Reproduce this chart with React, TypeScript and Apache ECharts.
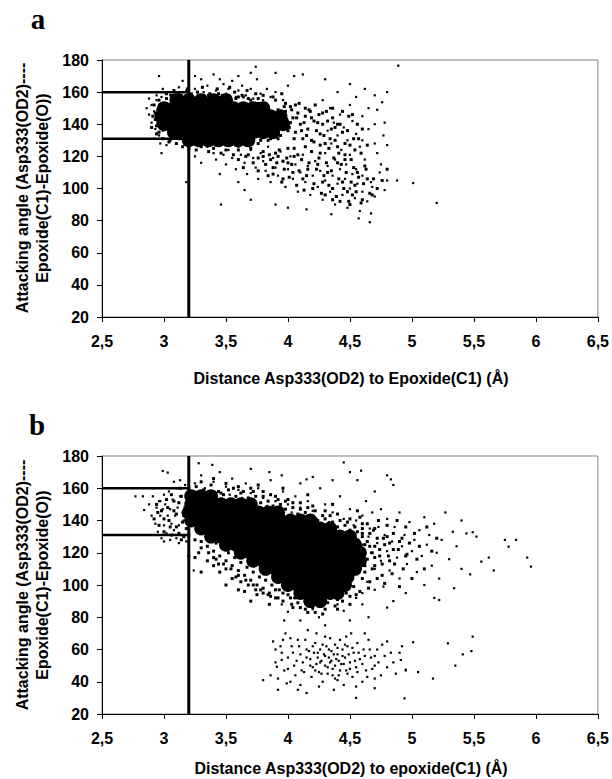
import React, { useEffect, useRef } from 'react';
import * as echarts from 'echarts';

// ---------- axis / reference values ----------
const xMin = 2.5;
const xMax = 6.5;
const xStep = 0.5;
const xTickLabels = ['2,5', '3', '3,5', '4', '4,5', '5', '5,5', '6', '6,5'];
const yMin = 20;
const yMax = 180;
const yStep = 20;
const refDistance = 3.2;
const refAngleHigh = 160;
const refAngleLow = 131;

const titleA = 'Distance Asp333(OD2) to Epoxide(C1) (Å)';
const titleB = 'Distance Asp333(OD2) to epoxide(C1) (Å)';
const yTitle1 = 'Attacking angle (Asp333(OD2)----';
const yTitle2 = 'Epoxide(C1)-Epoxide(O))';

// ---------- panel a ----------
// solid black centre of the cloud ([distance, angle])
const aCore: number[][] = [
  [3.1, 155], [3.2, 155], [3.3, 155], [3.4, 155], [3.5, 155],
  [3.0, 150], [3.08, 150], [3.16, 150], [3.24, 150], [3.32, 150], [3.4, 150], [3.48, 150], [3.56, 150], [3.64, 150], [3.72, 150], [3.8, 150],
  [2.98, 145], [3.06, 145], [3.14, 145], [3.22, 145], [3.3, 145], [3.38, 145], [3.46, 145], [3.54, 145], [3.62, 145], [3.7, 145], [3.78, 145], [3.86, 145], [3.94, 145],
  [3.0, 140], [3.08, 140], [3.16, 140], [3.24, 140], [3.32, 140], [3.4, 140], [3.48, 140], [3.56, 140], [3.64, 140], [3.72, 140], [3.8, 140], [3.88, 140], [3.96, 140],
  [3.08, 135], [3.16, 135], [3.24, 135], [3.32, 135], [3.4, 135], [3.48, 135], [3.56, 135], [3.64, 135], [3.72, 135], [3.8, 135], [3.88, 135],
  [3.2, 130], [3.28, 130], [3.36, 130], [3.44, 130], [3.52, 130], [3.6, 130], [3.68, 130],
];
const aDense: number[][] = [
  [3.02, 159], [3.08, 161], [3.14, 158], [3.19, 162], [3.27, 160], [3.31, 163], [3.37, 159], [3.43, 162], [3.47, 158],
  [3.53, 163], [3.57, 160], [3.63, 158], [3.67, 161], [3.74, 159], [3.8, 158], [3.88, 157], [3.95, 159],
  [3.58, 156], [3.64, 157], [3.7, 155], [3.76, 156], [3.82, 153], [3.9, 155], [3.98, 153], [4.06, 152], [4.14, 150],
  [3.98, 148], [4.02, 151], [4.04, 144], [4.06, 135], [4.08, 147], [4.1, 140], [4.12, 131], [4.14, 145], [4.16, 137],
  [4.18, 148], [4.19, 130], [4.21, 142], [4.23, 136], [4.25, 146], [4.26, 127], [4.28, 140], [4.29, 133], [4.31, 148],
  [4.33, 125], [4.35, 137], [4.36, 144], [4.38, 130], [4.4, 140], [4.41, 122], [4.44, 135], [4.46, 128], [4.49, 145],
  [4.51, 118], [4.53, 131], [4.56, 140], [4.59, 122],
  [3.05, 130], [3.1, 128], [3.15, 126], [3.2, 125], [3.26, 124], [3.3, 126], [3.36, 123], [3.4, 125], [3.46, 122],
  [3.5, 124], [3.56, 121], [3.6, 124], [3.66, 120], [3.7, 125], [3.76, 119], [3.8, 123], [3.86, 118], [3.9, 122],
  [3.96, 117], [4.0, 125], [4.05, 120], [3.78, 130], [3.86, 131], [3.94, 133], [4.0, 136], [4.02, 141],
  [2.9, 138], [2.91, 145], [2.92, 152], [2.94, 134], [2.95, 141], [2.95, 149], [2.96, 155], [2.93, 143],
  [3.82, 115], [3.85, 121], [3.88, 109], [3.91, 116], [3.93, 124], [3.95, 104], [3.97, 112], [3.99, 119], [4.01, 107],
  [4.03, 115], [4.05, 125], [4.07, 102], [4.09, 111], [4.11, 118], [4.13, 99], [4.15, 108], [4.17, 116], [4.19, 123],
  [4.21, 103], [4.23, 112], [4.25, 119], [4.27, 97], [4.29, 108], [4.31, 116], [4.33, 102], [4.35, 111], [4.37, 119],
  [4.39, 95], [4.41, 106], [4.43, 115], [4.45, 100], [4.47, 110], [4.49, 92], [4.51, 104], [4.53, 113], [4.55, 98],
  [4.57, 107], [4.59, 91], [4.61, 103], [4.63, 112], [4.66, 97], [4.69, 106], [4.72, 100], [4.76, 105], [4.8, 112],
  [3.97, 151], [3.99, 143], [4.01, 138], [4.03, 149], [4.05, 131], [4.07, 144], [4.09, 153], [4.11, 136], [4.13, 141],
  [4.15, 133], [4.17, 149], [4.19, 144], [4.21, 129], [4.22, 152], [4.24, 141], [4.26, 134], [4.28, 147], [4.3, 128],
  [4.32, 142], [4.34, 131], [4.36, 150], [4.38, 138], [4.4, 126], [4.42, 140], [4.44, 148], [4.46, 121], [4.48, 136],
  [4.5, 127], [4.52, 146], [4.54, 124], [4.57, 131], [4.6, 137], [4.62, 114], [4.64, 127],
  [2.93, 147], [2.94, 139], [2.96, 135], [2.97, 152], [2.99, 131], [3.02, 156], [3.04, 129], [3.06, 158], [3.12, 159],
  [3.22, 159], [3.28, 158], [3.36, 158], [3.44, 159], [3.52, 158], [3.6, 157], [3.68, 156], [3.76, 153], [3.84, 151],
  [3.92, 149], [3.98, 145], [4.0, 141], [3.96, 137], [3.92, 131], [3.84, 130], [3.76, 128], [3.66, 127], [3.58, 127],
  [3.5, 127], [3.42, 127], [3.34, 127], [3.26, 128], [3.18, 129], [3.12, 131], [3.06, 133],
  [3.6, 118], [3.64, 113], [3.68, 121], [3.72, 116], [3.76, 111], [3.8, 120], [3.84, 108], [3.88, 113], [3.92, 120],
  [3.96, 106], [4.0, 116], [4.04, 110], [4.08, 121], [4.12, 106], [4.16, 112], [4.2, 100], [4.24, 115], [4.28, 104],
  [4.32, 110], [4.36, 100], [4.4, 116], [4.44, 104], [4.48, 98], [4.52, 96], [4.56, 110], [4.6, 93], [4.64, 106],
  [4.68, 96], [4.36, 93], [4.26, 122], [4.14, 126], [4.46, 118], [4.54, 102], [4.42, 92], [4.5, 90], [4.3, 96],
];
const aSparse: number[][] = [
  [2.86, 150], [2.88, 146], [2.9, 152], [2.9, 141], [2.92, 148], [2.93, 137], [2.94, 155], [2.95, 144], [2.96, 150],
  [2.96, 133], [2.97, 140], [2.98, 157], [2.98, 146], [2.99, 136], [3.0, 153], [3.0, 131], [3.01, 160], [2.97, 128],
  [2.92, 131], [2.88, 156], [2.94, 158], [3.02, 127], [2.99, 162], [2.98, 122], [2.96, 170],
  [3.05, 158], [3.1, 160], [3.12, 163], [3.15, 157], [3.18, 161], [3.2, 166], [3.22, 158], [3.25, 162], [3.28, 157],
  [3.3, 168], [3.32, 160], [3.35, 164], [3.38, 158], [3.4, 171], [3.42, 161], [3.45, 157], [3.48, 165], [3.5, 159],
  [3.52, 162], [3.55, 167], [3.58, 157], [3.6, 161], [3.63, 164], [3.66, 158], [3.7, 162], [3.72, 156], [3.75, 168],
  [3.78, 159], [3.8, 155], [3.83, 162], [3.86, 157], [3.9, 160], [3.9, 172], [3.96, 155], [4.0, 164], [3.6, 170],
  [3.25, 170], [3.15, 167], [3.45, 168], [3.74, 175.8], [3.7, 172], [4.05, 170], [4.12, 171],
  [4.28, 155], [4.32, 136], [4.34, 150], [4.35, 128], [4.37, 141], [4.38, 118], [4.4, 133], [4.42, 146], [4.43, 124],
  [4.45, 138], [4.47, 115], [4.48, 130], [4.5, 152], [4.5, 121], [4.52, 142], [4.55, 112], [4.55, 134], [4.58, 126],
  [4.6, 145], [4.6, 108], [4.62, 118], [4.65, 137], [4.67, 104], [4.7, 128], [4.72, 149], [4.75, 115], [4.77, 133],
  [4.3, 122],
  [3.35, 126], [3.4, 122], [3.42, 118], [3.45, 127], [3.48, 121], [3.5, 115], [3.52, 124], [3.55, 119], [3.58, 112],
  [3.6, 126], [3.62, 121], [3.65, 116], [3.67, 109], [3.7, 124], [3.72, 119], [3.74, 113], [3.76, 106], [3.78, 122],
  [3.8, 117], [3.82, 111], [3.84, 126], [3.86, 104], [3.88, 119], [3.9, 113], [3.92, 108], [3.94, 123], [3.96, 117],
  [3.98, 101], [4.0, 112], [4.02, 120], [4.04, 106], [4.06, 115], [4.08, 98], [4.1, 110], [4.12, 121], [4.14, 104],
  [4.16, 114], [4.18, 96], [4.2, 108], [4.22, 117], [4.24, 101], [4.26, 111], [4.28, 93], [4.3, 105], [4.32, 114],
  [4.34, 98], [4.36, 108], [4.38, 90], [4.4, 103], [4.42, 112], [4.44, 96], [4.46, 106], [4.48, 88], [4.5, 100],
  [4.52, 109], [4.54, 94], [4.56, 103], [4.58, 86], [4.6, 98], [4.64, 92], [4.68, 101], [4.7, 95], [4.74, 110],
  [4.78, 99], [3.3, 116], [3.25, 120], [3.18, 104], [3.45, 109], [3.6, 104], [3.55, 130], [3.3, 131], [3.65, 99],
  [3.7, 93], [3.9, 90], [4.0, 88], [4.35, 84], [4.15, 87], [3.46, 90],
  [4.89, 176.5], [4.8, 160], [4.76, 153.7], [4.78, 141], [4.8, 127], [4.8, 105], [4.88, 105], [5.01, 103.4],
  [5.2, 91], [4.67, 84.5], [4.66, 79], [4.57, 81.4], [4.3, 168], [4.5, 165], [4.62, 162], [4.7, 158],
  [4.4, 160], [4.55, 157], [4.65, 150], [4.7, 140], [4.72, 122], [4.6, 130],
];

// ---------- panel b ----------
const bCore: number[][] = [
  [3.22, 155], [3.3, 155], [3.38, 155],
  [3.22, 150], [3.3, 150], [3.38, 150], [3.46, 150], [3.54, 150], [3.62, 150], [3.7, 150],
  [3.2, 145], [3.28, 145], [3.36, 145], [3.44, 145], [3.52, 145], [3.6, 145], [3.68, 145], [3.76, 145], [3.84, 145], [3.92, 145],
  [3.22, 140], [3.3, 140], [3.38, 140], [3.46, 140], [3.54, 140], [3.62, 140], [3.7, 140], [3.78, 140], [3.86, 140], [3.94, 140], [4.02, 140], [4.1, 140], [4.18, 140],
  [3.3, 135], [3.38, 135], [3.46, 135], [3.54, 135], [3.62, 135], [3.7, 135], [3.78, 135], [3.86, 135], [3.94, 135], [4.02, 135], [4.1, 135], [4.18, 135], [4.26, 135], [4.34, 135],
  [3.38, 130], [3.46, 130], [3.54, 130], [3.62, 130], [3.7, 130], [3.78, 130], [3.86, 130], [3.94, 130], [4.02, 130], [4.1, 130], [4.18, 130], [4.26, 130], [4.34, 130], [4.42, 130], [4.5, 130],
  [3.5, 125], [3.58, 125], [3.66, 125], [3.74, 125], [3.82, 125], [3.9, 125], [3.98, 125], [4.06, 125], [4.14, 125], [4.22, 125], [4.3, 125], [4.38, 125], [4.46, 125], [4.54, 125],
  [3.62, 120], [3.7, 120], [3.78, 120], [3.86, 120], [3.94, 120], [4.02, 120], [4.1, 120], [4.18, 120], [4.26, 120], [4.34, 120], [4.42, 120], [4.5, 120], [4.58, 120],
  [3.72, 115], [3.8, 115], [3.88, 115], [3.96, 115], [4.04, 115], [4.12, 115], [4.2, 115], [4.28, 115], [4.36, 115], [4.44, 115], [4.52, 115], [4.58, 115],
  [3.82, 110], [3.9, 110], [3.98, 110], [4.06, 110], [4.14, 110], [4.22, 110], [4.3, 110], [4.38, 110], [4.46, 110], [4.54, 110],
  [3.92, 105], [4.0, 105], [4.08, 105], [4.16, 105], [4.24, 105], [4.32, 105], [4.4, 105], [4.48, 105],
  [4.0, 100], [4.08, 100], [4.16, 100], [4.24, 100], [4.32, 100], [4.4, 100], [4.46, 100],
  [4.1, 95], [4.18, 95], [4.26, 95], [4.34, 95], [4.4, 95],
  [4.18, 90], [4.26, 90],
];
const bDense: number[][] = [
  [3.3, 127], [3.35, 124], [3.4, 121], [3.42, 126], [3.45, 118], [3.48, 123], [3.5, 115], [3.52, 120], [3.55, 112],
  [3.57, 117], [3.6, 109], [3.62, 114], [3.65, 106], [3.67, 111], [3.7, 103], [3.72, 108], [3.75, 100], [3.77, 105],
  [3.8, 98], [3.82, 103], [3.85, 95], [3.87, 100], [3.9, 92], [3.93, 97], [3.96, 90], [4.0, 94], [4.03, 88], [4.06, 92],
  [4.1, 86], [4.14, 90], [4.2, 86], [4.25, 88], [4.32, 89], [4.4, 91], [4.47, 95], [4.53, 99], [3.4, 112], [3.55, 104],
  [3.65, 96], [3.25, 117], [3.35, 115], [3.45, 108], [3.75, 94], [3.6, 97], [3.3, 108], [3.2, 118], [3.5, 100],
  [3.85, 88], [3.7, 90],
  [3.2, 160], [3.26, 161], [3.32, 159], [3.38, 162], [3.44, 158], [3.48, 156], [3.52, 159], [3.58, 155], [3.62, 157],
  [3.68, 154], [3.74, 155], [3.78, 151], [3.84, 152], [3.88, 149], [3.94, 150], [3.98, 147], [4.04, 148], [4.08, 144],
  [4.14, 145], [4.2, 143], [4.24, 140], [4.3, 141], [4.36, 139], [4.4, 136], [4.46, 137], [4.5, 134], [4.56, 133],
  [4.6, 130], [4.64, 127], [4.66, 132], [4.7, 124], [4.72, 129], [4.6, 120], [4.64, 116], [4.68, 120], [4.7, 112],
  [4.74, 118], [4.76, 106], [4.62, 108], [4.66, 102], [4.58, 96], [4.55, 94], [4.62, 125], [4.57, 110], [4.6, 104],
  [3.3, 164], [3.4, 166], [3.5, 163], [3.6, 161], [3.7, 160], [3.8, 158], [3.9, 155], [4.0, 153], [4.1, 151],
  [4.2, 149], [4.3, 146], [4.4, 144], [4.5, 141], [4.6, 138], [4.7, 135], [4.8, 130], [4.85, 122], [4.82, 115],
  [4.78, 125], [4.9, 127], [4.95, 118],
  [3.3, 123], [3.36, 120], [3.42, 116], [3.48, 113], [3.54, 110], [3.6, 106], [3.66, 103], [3.72, 100], [3.78, 97],
  [3.84, 94], [3.9, 97], [3.96, 95], [4.02, 92], [4.08, 89], [4.14, 85], [4.22, 83], [4.3, 85], [4.38, 87], [4.44, 90],
  [4.5, 93],
  [2.92, 141], [2.94, 150], [2.96, 137], [2.98, 146], [3.0, 133], [3.02, 153], [3.04, 140], [3.06, 131], [3.08, 146],
  [3.1, 136], [3.12, 151], [3.14, 128], [3.16, 143], [3.18, 135], [3.2, 152], [3.19, 141], [3.17, 148], [3.13, 160],
  [3.06, 156],
  [2.95, 145], [3.0, 141], [3.03, 148], [3.05, 136], [3.08, 152], [3.1, 144], [3.12, 132], [3.14, 155], [3.15, 139],
  [3.18, 156], [3.16, 130], [3.25, 128], [3.2, 131],
  [4.58, 142], [4.6, 132], [4.62, 112], [4.64, 138], [4.65, 98], [4.66, 124], [4.68, 110], [4.69, 134], [4.7, 117],
  [4.72, 104], [4.73, 140], [4.74, 122], [4.76, 113], [4.77, 129], [4.78, 101], [4.8, 137], [4.81, 118], [4.82, 126],
  [4.84, 107], [4.85, 132], [4.86, 113], [4.88, 140], [4.89, 122], [4.9, 99], [4.92, 129], [4.93, 110], [4.95, 136],
  [4.96, 119], [4.98, 126], [5.0, 104], [5.02, 132], [5.04, 116], [5.06, 124], [5.1, 110], [5.12, 136], [5.16, 121],
  [5.2, 129],
  [3.46, 157], [3.56, 160], [3.64, 158], [3.72, 158], [3.8, 155], [3.86, 156], [3.92, 153], [3.98, 152], [4.04, 151],
  [4.1, 147], [4.16, 148], [4.22, 146], [4.28, 143], [4.34, 143], [4.42, 140], [4.48, 139], [4.54, 136], [4.6, 135],
  [3.76, 162], [3.96, 160], [4.16, 156], [4.36, 150], [4.56, 146],
  [3.4, 117], [3.5, 110], [3.58, 105], [3.68, 100], [3.8, 95], [3.92, 92], [4.04, 86], [4.16, 83], [4.28, 82],
  [4.4, 85], [4.5, 88], [3.28, 120], [3.44, 113], [3.62, 102], [3.74, 97], [3.86, 93],
];
const bSparse: number[][] = [
  [2.77, 155], [2.83, 155], [2.84, 146.5], [2.88, 150], [2.9, 143], [2.91, 155], [2.93, 138], [2.94, 148], [2.95, 133],
  [2.96, 152], [2.97, 143], [2.98, 129], [2.99, 147], [3.0, 156], [3.0, 137], [3.01, 150], [3.02, 132], [3.03, 143],
  [3.04, 158], [3.05, 128], [3.05, 147], [3.06, 138], [3.07, 153], [3.08, 134], [3.09, 143], [3.1, 160], [3.1, 129],
  [3.11, 148], [3.12, 137], [3.13, 155], [3.14, 131], [3.15, 145], [3.16, 140], [3.17, 162], [3.18, 150], [3.18, 127],
  [3.19, 135], [2.99, 170.7], [3.03, 169.7], [3.13, 165], [3.28, 175.5], [3.39, 174.5], [2.97, 152], [2.92, 160],
  [3.08, 164], [3.0, 127], [3.12, 126],
  [3.22, 158], [3.25, 163], [3.28, 156], [3.3, 168], [3.33, 160], [3.36, 154], [3.4, 164], [3.42, 157], [3.45, 170],
  [3.48, 153], [3.5, 161], [3.53, 156], [3.55, 166], [3.58, 151], [3.6, 159], [3.63, 154], [3.66, 163], [3.68, 148],
  [3.7, 157], [3.73, 151], [3.76, 160], [3.78, 146], [3.8, 154], [3.83, 149], [3.86, 165], [3.88, 144], [3.9, 152],
  [3.93, 147], [3.96, 158], [3.98, 142], [4.0, 150], [4.03, 145], [4.06, 155], [4.08, 140], [4.1, 148], [4.13, 143],
  [4.16, 152], [4.18, 137], [4.2, 146], [4.23, 141], [4.26, 160], [4.28, 135], [4.3, 150], [4.33, 139], [4.36, 145],
  [4.4, 133], [4.42, 155], [4.45, 141], [4.48, 131], [4.5, 147], [4.53, 137], [4.56, 165], [4.6, 143], [4.63, 152],
  [4.66, 135], [4.7, 158], [4.75, 147], [4.8, 168], [4.85, 162], [3.95, 168], [4.1, 163], [4.45, 176], [4.5, 170],
  [3.7, 172], [3.85, 170], [4.2, 167], [4.59, 170.9], [4.83, 165.5], [4.36, 165], [4.15, 165.5],
  [4.52, 128], [4.55, 118], [4.55, 140], [4.58, 108], [4.6, 125], [4.6, 135], [4.62, 114], [4.64, 102], [4.65, 130],
  [4.67, 120], [4.68, 145], [4.7, 110], [4.72, 126], [4.73, 136], [4.75, 115], [4.77, 99], [4.78, 131], [4.8, 121],
  [4.8, 141], [4.82, 109], [4.84, 127], [4.86, 136], [4.88, 117], [4.9, 104], [4.9, 145], [4.92, 124], [4.94, 131],
  [4.96, 113], [4.98, 139], [5.0, 121], [5.02, 128], [5.04, 108], [5.06, 134], [5.08, 118], [5.1, 142], [5.12, 125],
  [5.14, 131], [5.16, 112], [5.18, 138], [5.2, 120], [5.22, 104], [5.24, 128], [5.27, 145], [5.3, 116], [5.33, 133],
  [5.36, 124], [5.4, 140], [5.44, 132], [5.49, 132.7], [5.52, 130], [5.4, 110], [5.47, 106.6], [5.56, 114.5],
  [5.62, 117], [5.66, 109], [5.75, 128], [5.78, 123.8], [5.84, 128], [5.93, 117], [5.96, 111.4], [5.34, 98],
  [5.22, 90.7], [5.18, 92], [5.1, 100], [4.95, 95], [4.85, 90], [4.7, 97], [4.6, 95],
  [4.05, 92], [4.25, 80], [4.45, 84], [4.6, 88], [4.65, 80], [4.8, 86], [4.35, 92], [4.55, 92], [4.0, 83.4],
  [3.97, 78], [3.24, 109],
  [3.88, 65], [3.9, 52], [3.92, 42], [3.95, 58], [3.97, 47], [3.98, 70], [4.0, 55], [4.02, 40], [4.03, 62], [4.05, 50],
  [4.06, 44], [4.08, 66], [4.1, 57], [4.1, 38], [4.12, 52], [4.13, 46], [4.15, 60], [4.16, 72], [4.18, 54], [4.19, 43],
  [4.2, 49], [4.21, 58], [4.22, 64], [4.23, 51], [4.24, 55], [4.25, 46], [4.26, 60], [4.27, 53], [4.28, 40], [4.29, 57],
  [4.3, 50], [4.3, 68], [4.31, 62], [4.32, 45], [4.33, 55], [4.34, 52], [4.35, 59], [4.36, 48], [4.37, 35], [4.38, 63],
  [4.39, 54], [4.4, 57], [4.41, 44], [4.42, 66], [4.43, 51], [4.44, 60], [4.45, 38], [4.46, 55], [4.47, 47], [4.48, 62],
  [4.5, 52], [4.51, 70], [4.52, 43], [4.53, 58], [4.55, 49], [4.56, 64], [4.58, 54], [4.6, 40], [4.61, 60], [4.63, 47],
  [4.65, 66], [4.67, 55], [4.7, 50], [4.72, 60], [4.75, 44], [4.78, 56], [4.8, 65], [4.85, 52], [4.9, 58], [4.95, 47],
  [4.1, 78], [4.3, 75], [4.5, 78], [4.2, 85], [4.4, 88], [3.95, 88], [3.92, 35], [4.15, 33], [4.55, 30], [4.7, 36],
  [4.38, 42], [4.25, 37], [3.8, 41], [3.86, 44], [3.9, 60], [3.96, 66], [3.95, 53.5], [3.91, 49.3], [3.99, 39],
  [5.49, 68], [5.48, 59], [5.41, 57], [5.35, 50], [5.29, 63.8], [5.17, 42], [4.94, 29.7], [5.05, 46], [5.01, 64.5],
  [4.91, 53.5], [4.95, 47.5],
  [4.15, 55], [4.18, 50], [4.2, 62], [4.22, 47], [4.24, 58], [4.26, 52], [4.28, 63], [4.3, 56], [4.32, 49], [4.33, 60],
  [4.35, 53], [4.36, 44], [4.37, 57], [4.38, 50], [4.4, 61], [4.41, 53], [4.42, 47], [4.44, 56], [4.45, 51], [4.46, 63],
  [4.48, 45], [4.49, 57], [4.5, 48], [4.52, 61], [4.54, 53], [4.56, 46], [4.57, 58], [4.6, 51], [4.62, 56], [4.64, 43],
  [4.66, 60], [4.68, 48], [4.7, 56], [4.73, 52], [4.76, 63], [4.8, 49], [4.83, 58], [4.87, 45], [4.92, 62], [4.0, 48],
  [4.04, 58], [4.07, 53], [4.09, 62], [4.11, 47], [4.14, 66], [4.17, 59], [4.23, 70], [4.27, 45], [4.34, 67], [4.4, 41],
  [4.47, 68], [4.55, 37], [4.62, 70], [4.7, 42], [4.02, 67], [3.94, 62], [4.08, 35],
];

const FONT = '"Liberation Sans", Arial, sans-serif';
const SERIF = '"Liberation Serif", "Times New Roman", serif';

export default function App() {
  const ref = useRef<HTMLDivElement>(null);
  useEffect(() => {
    if (!ref.current) return;
    const chart = echarts.init(ref.current, undefined, { renderer: 'svg' });
    const grids = [
      { left: 102, top: 60, width: 497, height: 257 },
      { left: 102, top: 456, width: 497, height: 258 },
    ];
    const xAxes = grids.map((_, i) => ({
      type: 'value', gridIndex: i, min: xMin, max: xMax, interval: xStep,
      axisLine: { show: true, onZero: false, lineStyle: { color: '#000', width: 1 } },
      axisTick: { show: true, inside: false, length: 5, lineStyle: { color: '#000' } },
      axisLabel: {
        margin: 16, color: '#000', fontFamily: FONT, fontWeight: 700, fontSize: 16,
        formatter: (v: number) => xTickLabels[Math.round((v - xMin) / xStep)] ?? '',
      },
      splitLine: { show: false },
    }));
    const yAxes = grids.map((_, i) => ({
      type: 'value', gridIndex: i, min: yMin, max: yMax, interval: yStep,
      axisLine: { show: true, onZero: false, lineStyle: { color: '#000', width: 1 } },
      axisTick: { show: true, inside: false, length: 5, lineStyle: { color: '#000' } },
      axisLabel: { margin: 13, color: '#000', fontFamily: FONT, fontWeight: 700, fontSize: 16 },
      splitLine: { show: false },
    }));
    const panels = [
      { core: aCore, dense: aDense, sparse: aSparse },
      { core: bCore, dense: bDense, sparse: bSparse },
    ];
    const series: any[] = [];
    panels.forEach((p, i) => {
      series.push({
        type: 'scatter', xAxisIndex: i, yAxisIndex: i, data: p.core, symbol: 'circle', symbolSize: 14,
        itemStyle: { color: '#000', opacity: 1 }, silent: true,
      });
      series.push({
        type: 'scatter', xAxisIndex: i, yAxisIndex: i, data: p.dense, symbol: 'rect', symbolSize: 3,
        itemStyle: { color: '#000', opacity: 1 }, silent: true,
      });
      series.push({
        type: 'scatter', xAxisIndex: i, yAxisIndex: i, data: p.sparse, symbol: 'rect', symbolSize: 2.2,
        itemStyle: { color: '#000', opacity: 1 }, silent: true,
      });
      const lineBase = {
        type: 'line', xAxisIndex: i, yAxisIndex: i, symbol: 'none', silent: true, z: 5,
      };
      series.push({ ...lineBase, data: [[refDistance, yMin], [refDistance, yMax]], lineStyle: { color: '#000', width: 3 } });
      series.push({ ...lineBase, data: [[xMin, refAngleHigh], [refDistance, refAngleHigh]], lineStyle: { color: '#000', width: 2.5 } });
      series.push({ ...lineBase, data: [[xMin, refAngleLow], [refDistance, refAngleLow]], lineStyle: { color: '#000', width: 2.5 } });
    });
    const textStyle = (text: string, size: number, family = FONT) => ({
      text, fontSize: size, fontWeight: 'bold', fontFamily: family, fill: '#000', align: 'center', verticalAlign: 'middle',
    });
    const graphic: any[] = [
      { type: 'text', x: 38, y: 19, style: textStyle('a', 29, SERIF) },
      { type: 'text', x: 37, y: 425, style: textStyle('b', 29, SERIF) },
      { type: 'text', x: 351, y: 378, style: textStyle(titleA, 16) },
      { type: 'text', x: 351, y: 768, style: textStyle(titleB, 16) },
      { type: 'text', x: 22, y: 188, rotation: Math.PI / 2, style: textStyle(yTitle1, 16) },
      { type: 'text', x: 42, y: 188, rotation: Math.PI / 2, style: textStyle(yTitle2, 16) },
      { type: 'text', x: 22, y: 585, rotation: Math.PI / 2, style: textStyle(yTitle1, 16) },
      { type: 'text', x: 42, y: 585, rotation: Math.PI / 2, style: textStyle(yTitle2, 16) },
    ];
    chart.setOption({
      animation: false,
      backgroundColor: '#fff',
      grid: grids.map((g) => ({ ...g, show: true, borderColor: '#808080', borderWidth: 1, backgroundColor: 'transparent' })),
      xAxis: xAxes,
      yAxis: yAxes,
      series,
      graphic,
    });
    return () => chart.dispose();
  }, []);
  return <div ref={ref} style={{ position: 'absolute', left: 0, top: 0, width: 612, height: 779 }} />;
}
